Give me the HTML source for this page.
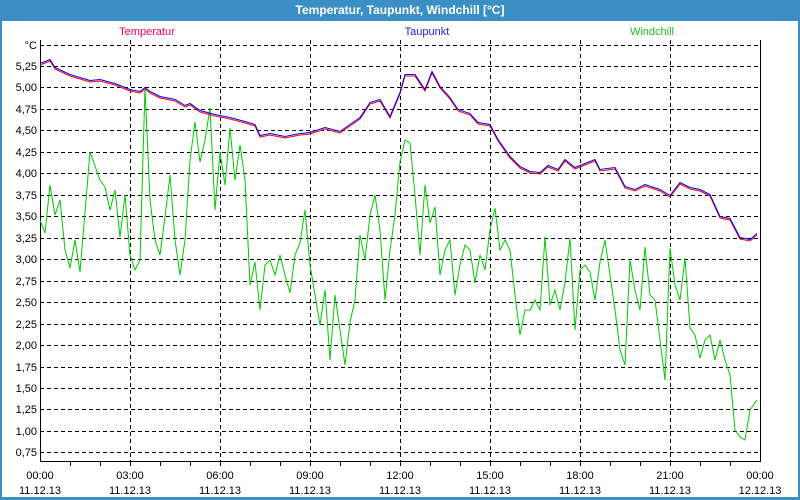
<!DOCTYPE html>
<html><head><meta charset="utf-8"><style>
html,body{margin:0;padding:0;background:#fff}
svg{display:block}
text{font-family:"Liberation Sans",sans-serif;font-size:11px}
</style></head><body>
<svg width="800" height="500" xmlns="http://www.w3.org/2000/svg">
<rect x="0" y="0" width="800" height="500" fill="#3c8fc4"/>
<rect x="2" y="21" width="796" height="476" fill="#fff"/>
<text x="400" y="14" text-anchor="middle" fill="#fff" style="font-weight:bold;font-size:12px">Temperatur, Taupunkt, Windchill [°C]</text>
<text x="147" y="35" text-anchor="middle" fill="#ff0050">Temperatur</text>
<text x="427" y="35" text-anchor="middle" fill="#2020e0">Taupunkt</text>
<text x="652" y="35" text-anchor="middle" fill="#20c020">Windchill</text>
<g stroke="#000" stroke-width="1" stroke-dasharray="4,3" fill="none">
<path d="M40 45.5H760M40 66.5H760M40 87.5H760M40 109.5H760M40 130.5H760M40 152.5H760M40 173.5H760M40 195.5H760M40 216.5H760M40 238.5H760M40 259.5H760M40 281.5H760M40 302.5H760M40 324.5H760M40 345.5H760M40 367.5H760M40 388.5H760M40 409.5H760M40 431.5H760M40 452.5H760"/>
<path d="M130.5 40V461M220.5 40V461M310.5 40V461M400.5 40V461M490.5 40V461M580.5 40V461M670.5 40V461"/>
</g>
<g stroke="#000" stroke-width="1" fill="none">
<path d="M40.5 40V461.5H760.5V40"/>
<path d="M70.5 461V466M100.5 461V466M130.5 461V466M160.5 461V466M190.5 461V466M220.5 461V466M250.5 461V466M280.5 461V466M310.5 461V466M340.5 461V466M370.5 461V466M400.5 461V466M430.5 461V466M460.5 461V466M490.5 461V466M520.5 461V466M550.5 461V466M580.5 461V466M610.5 461V466M640.5 461V466M670.5 461V466M700.5 461V466M730.5 461V466"/>
</g>
<g fill="#000" text-anchor="end">
<text x="37" y="49">°C</text><text x="37" y="70">5,25</text><text x="37" y="91">5,00</text><text x="37" y="113">4,75</text><text x="37" y="134">4,50</text><text x="37" y="156">4,25</text><text x="37" y="177">4,00</text><text x="37" y="199">3,75</text><text x="37" y="220">3,50</text><text x="37" y="242">3,25</text><text x="37" y="263">3,00</text><text x="37" y="285">2,75</text><text x="37" y="306">2,50</text><text x="37" y="328">2,25</text><text x="37" y="349">2,00</text><text x="37" y="371">1,75</text><text x="37" y="392">1,50</text><text x="37" y="413">1,25</text><text x="37" y="435">1,00</text><text x="37" y="456">0,75</text>
</g>
<g fill="#000" text-anchor="middle">
<text x="40" y="479">00:00</text><text x="40" y="494">11.12.13</text>
<text x="130" y="479">03:00</text><text x="130" y="494">11.12.13</text>
<text x="220" y="479">06:00</text><text x="220" y="494">11.12.13</text>
<text x="310" y="479">09:00</text><text x="310" y="494">11.12.13</text>
<text x="400" y="479">12:00</text><text x="400" y="494">11.12.13</text>
<text x="490" y="479">15:00</text><text x="490" y="494">11.12.13</text>
<text x="580" y="479">18:00</text><text x="580" y="494">11.12.13</text>
<text x="670" y="479">21:00</text><text x="670" y="494">11.12.13</text>
<text x="760" y="479">00:00</text><text x="760" y="494">12.12.13</text>
</g>
<polyline fill="none" stroke="#00cc00" stroke-width="1" points="40,220 45,233 50,185 55,215 60,200 65,250 70,268 75,240 80,272 90,152 100,180 105,187 110,210 115,190 120,237 125,195 130,255 135,270 140,260 145,88 150,200 155,240 160,255 165,217 170,175 175,240 180,275 185,240 190,160 195,122 200,162 205,140 210,108 215,210 220,152 225,185 230,128 235,180 240,145 245,180 250,285 255,262 260,310 265,265 270,260 275,275 280,255 285,275 290,293 295,255 300,243 305,210 310,265 315,295 320,325 325,290 330,360 335,295 340,330 345,365 350,322 355,300 360,235 365,260 370,215 375,195 380,230 385,300 390,250 395,215 400,162 405,140 410,143 415,195 420,255 425,185 430,223 435,207 440,275 445,250 450,240 455,295 460,265 465,245 470,250 475,283 480,255 485,270 490,230 495,208 500,250 505,240 510,250 515,295 520,335 525,310 530,310 535,300 540,310 545,237 550,305 555,290 560,310 565,282 570,238 575,330 580,270 585,265 590,272 595,300 600,262 605,240 610,275 615,310 620,350 625,365 630,260 635,290 640,310 645,247 650,295 655,300 660,340 665,380 670,248 675,285 680,300 685,258 690,328 695,335 700,358 705,340 710,335 715,360 720,340 725,360 730,375 735,430 740,437 745,440 750,410 757,400"/>
<polyline fill="none" stroke="#ff0000" stroke-width="1" points="40,65 50,61 55,69 70,76 90,82 100,81 115,85 130,91 140,93 145,89 150,93 160,98 175,101 185,107 190,105 200,112 215,116 230,119 245,123 255,126 260,137 270,135 285,138 300,135 310,134 325,129 340,133 350,126 360,119 370,104 380,101 390,118 400,94 405,76 415,76 425,91 432,73 440,88 450,99 458,111 470,115 478,124 490,126 498,141 510,158 520,168 530,173 540,174 548,167 558,171 565,161 575,169 585,165 595,161 600,171 615,169 625,188 635,191 645,186 660,191 670,197 680,184 690,189 700,191 710,196 720,218 730,220 740,239 750,241 757,235"/>
<polyline fill="none" stroke="#0000ff" stroke-width="1" points="40,63.5 50,59.5 55,67.5 70,74.5 90,80.5 100,79.5 115,83.5 130,89.5 140,91.5 145,87.5 150,91.5 160,96.5 175,99.5 185,105.5 190,103.5 200,110.5 215,114.5 230,117.5 245,121.5 255,124.5 260,135.5 270,133.5 285,136.5 300,133.5 310,132.5 325,127.5 340,131.5 350,124.5 360,117.5 370,102.5 380,99.5 390,116.5 400,92.5 405,74.5 415,74.5 425,89.5 432,71.5 440,86.5 450,97.5 458,109.5 470,113.5 478,122.5 490,124.5 498,139.5 510,156.5 520,166.5 530,171.5 540,172.5 548,165.5 558,169.5 565,159.5 575,167.5 585,163.5 595,159.5 600,169.5 615,167.5 625,186.5 635,189.5 645,184.5 660,189.5 670,195.5 680,182.5 690,187.5 700,189.5 710,194.5 720,216.5 730,218.5 740,237.5 750,239.5 757,233.5"/>
</svg>
</body></html>
